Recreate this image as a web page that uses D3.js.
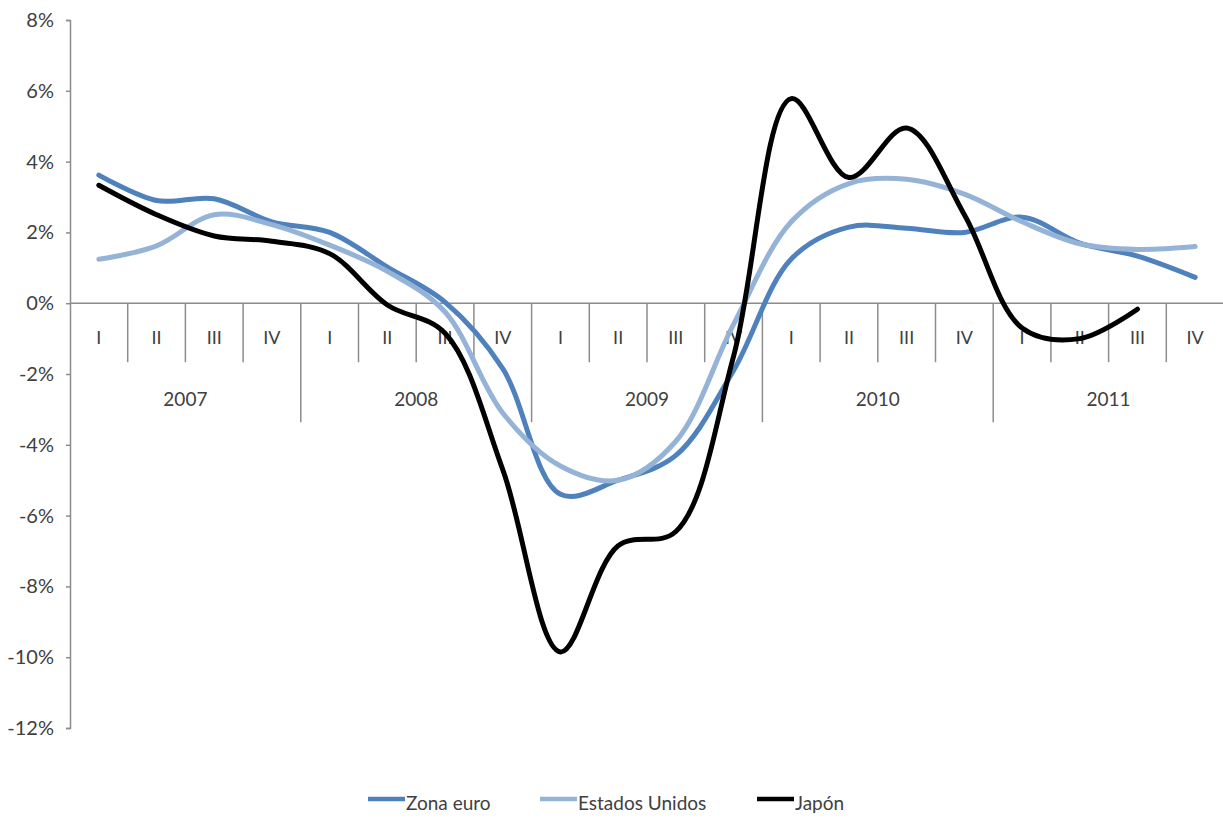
<!DOCTYPE html>
<html><head><meta charset="utf-8">
<script src="https://cdn.jsdelivr.net/npm/d3@7"></script>
<style>
html,body{margin:0;padding:0;background:#fff;}
text{font-family:Lato,"Open Sans",sans-serif;fill:#404040;}
</style></head>
<body>
<svg id="chart" width="1223" height="818"></svg>
<script>
const years = ["2007","2008","2009","2010","2011"];
const quarterLabels = ["I","II","III","IV"];
const categories = years.flatMap(y => quarterLabels.map(q => y + "-" + q));
const yTicks = [8,6,4,2,0,-2,-4,-6,-8,-10,-12];

const zonaEuro = [3.62,2.9,2.95,2.3, 2.0,1.02,0.03,-1.85, -5.4,-5.0,-4.3,-1.9, 1.25,2.15,2.12,2.0, 2.43,1.7,1.33,0.73];
const estadosUnidos = [1.24,1.62,2.5,2.22, 1.64,0.9,-0.25,-3.1, -4.6,-5.0,-3.9,-0.6, 2.3,3.38,3.5,3.08, 2.3,1.68,1.52,1.6];
const japon = [3.33,2.5,1.9,1.75, 1.4,-0.05,-0.85,-4.7, -9.85,-6.85,-6.45,-1.5, 5.78,3.55,4.95,2.5, -0.7,-1.0,-0.17];

const seriesNames = ["Zona euro","Estados Unidos","Japón"];
const seriesColors = ["#4f81bd","#95b3d7","#000000"];
const seriesData = [zonaEuro, estadosUnidos, japon];

(function draw() {
const svg = d3.select("#chart");
const mLeft = 70, mRight = 1224, mTop = 20, mBottom = 728;

const x = d3.scaleBand().domain(categories).range([mLeft, mRight]).paddingInner(0).paddingOuter(0);
const y = d3.scaleLinear().domain([-12, 8]).range([mBottom, mTop]);

// y axis
const yAxis = d3.axisLeft(y).tickValues(yTicks).tickSize(4).tickFormat(d => d + "%");
const gy = svg.append("g").attr("transform", `translate(${mLeft},0)`).call(yAxis);
gy.select(".domain").attr("stroke", "#8c8c8c").attr("stroke-width", 1.5);
gy.selectAll(".tick line").attr("stroke", "#8c8c8c").attr("stroke-width", 1.5);
gy.selectAll(".tick text").attr("x", -16).attr("font-size", 20).attr("fill", "#404040")
  .style("font-family", "Lato, 'Open Sans', sans-serif");

// category axis at zero
const y0 = y(0);
svg.append("line").attr("x1", mLeft).attr("x2", mRight).attr("y1", y0).attr("y2", y0)
  .attr("stroke", "#8c8c8c").attr("stroke-width", 1.5);

categories.forEach((c, i) => {
  const xs = x(c);
  const isYear = i % 4 === 0;
  if (i > 0) {
    svg.append("line").attr("x1", xs).attr("x2", xs).attr("y1", y0).attr("y2", y0 + (isYear ? 119 : 59))
      .attr("stroke", "#8c8c8c").attr("stroke-width", 1.5);
  }
  svg.append("text").attr("x", xs + x.bandwidth() / 2).attr("y", y0 + 34)
    .attr("text-anchor", "middle").attr("dominant-baseline", "central").attr("font-size", 18)
    .text(quarterLabels[i % 4]);
});
years.forEach((yr, j) => {
  const x1 = x(yr + "-I"), x2 = x(yr + "-IV") + x.bandwidth();
  svg.append("text").attr("x", (x1 + x2) / 2).attr("y", y0 + 95)
    .attr("text-anchor", "middle").attr("dominant-baseline", "central").attr("font-size", 19)
    .text(yr);
});

// lines
const line = d3.line()
  .x((d, i) => x(categories[i]) + x.bandwidth() / 2)
  .y(d => y(d))
  .curve(d3.curveCatmullRom.alpha(0.5));

seriesData.forEach((s, k) => {
  svg.append("path").datum(s).attr("d", line).attr("fill", "none")
    .attr("stroke", seriesColors[k]).attr("stroke-width", 5)
    .attr("stroke-linecap", "round").attr("stroke-linejoin", "round");
});

// legend
const legendX = [368, 540, 757];
seriesNames.forEach((n, k) => {
  const g = svg.append("g").attr("transform", `translate(${legendX[k]},802)`);
  g.append("line").attr("x1", 0).attr("x2", 37).attr("y1", -3).attr("y2", -3)
    .attr("stroke", seriesColors[k]).attr("stroke-width", 4.5);
  g.append("text").attr("x", 38).attr("y", 0).attr("dominant-baseline", "central")
    .attr("font-size", 19).text(n);
});
})();
</script>
</body></html>
